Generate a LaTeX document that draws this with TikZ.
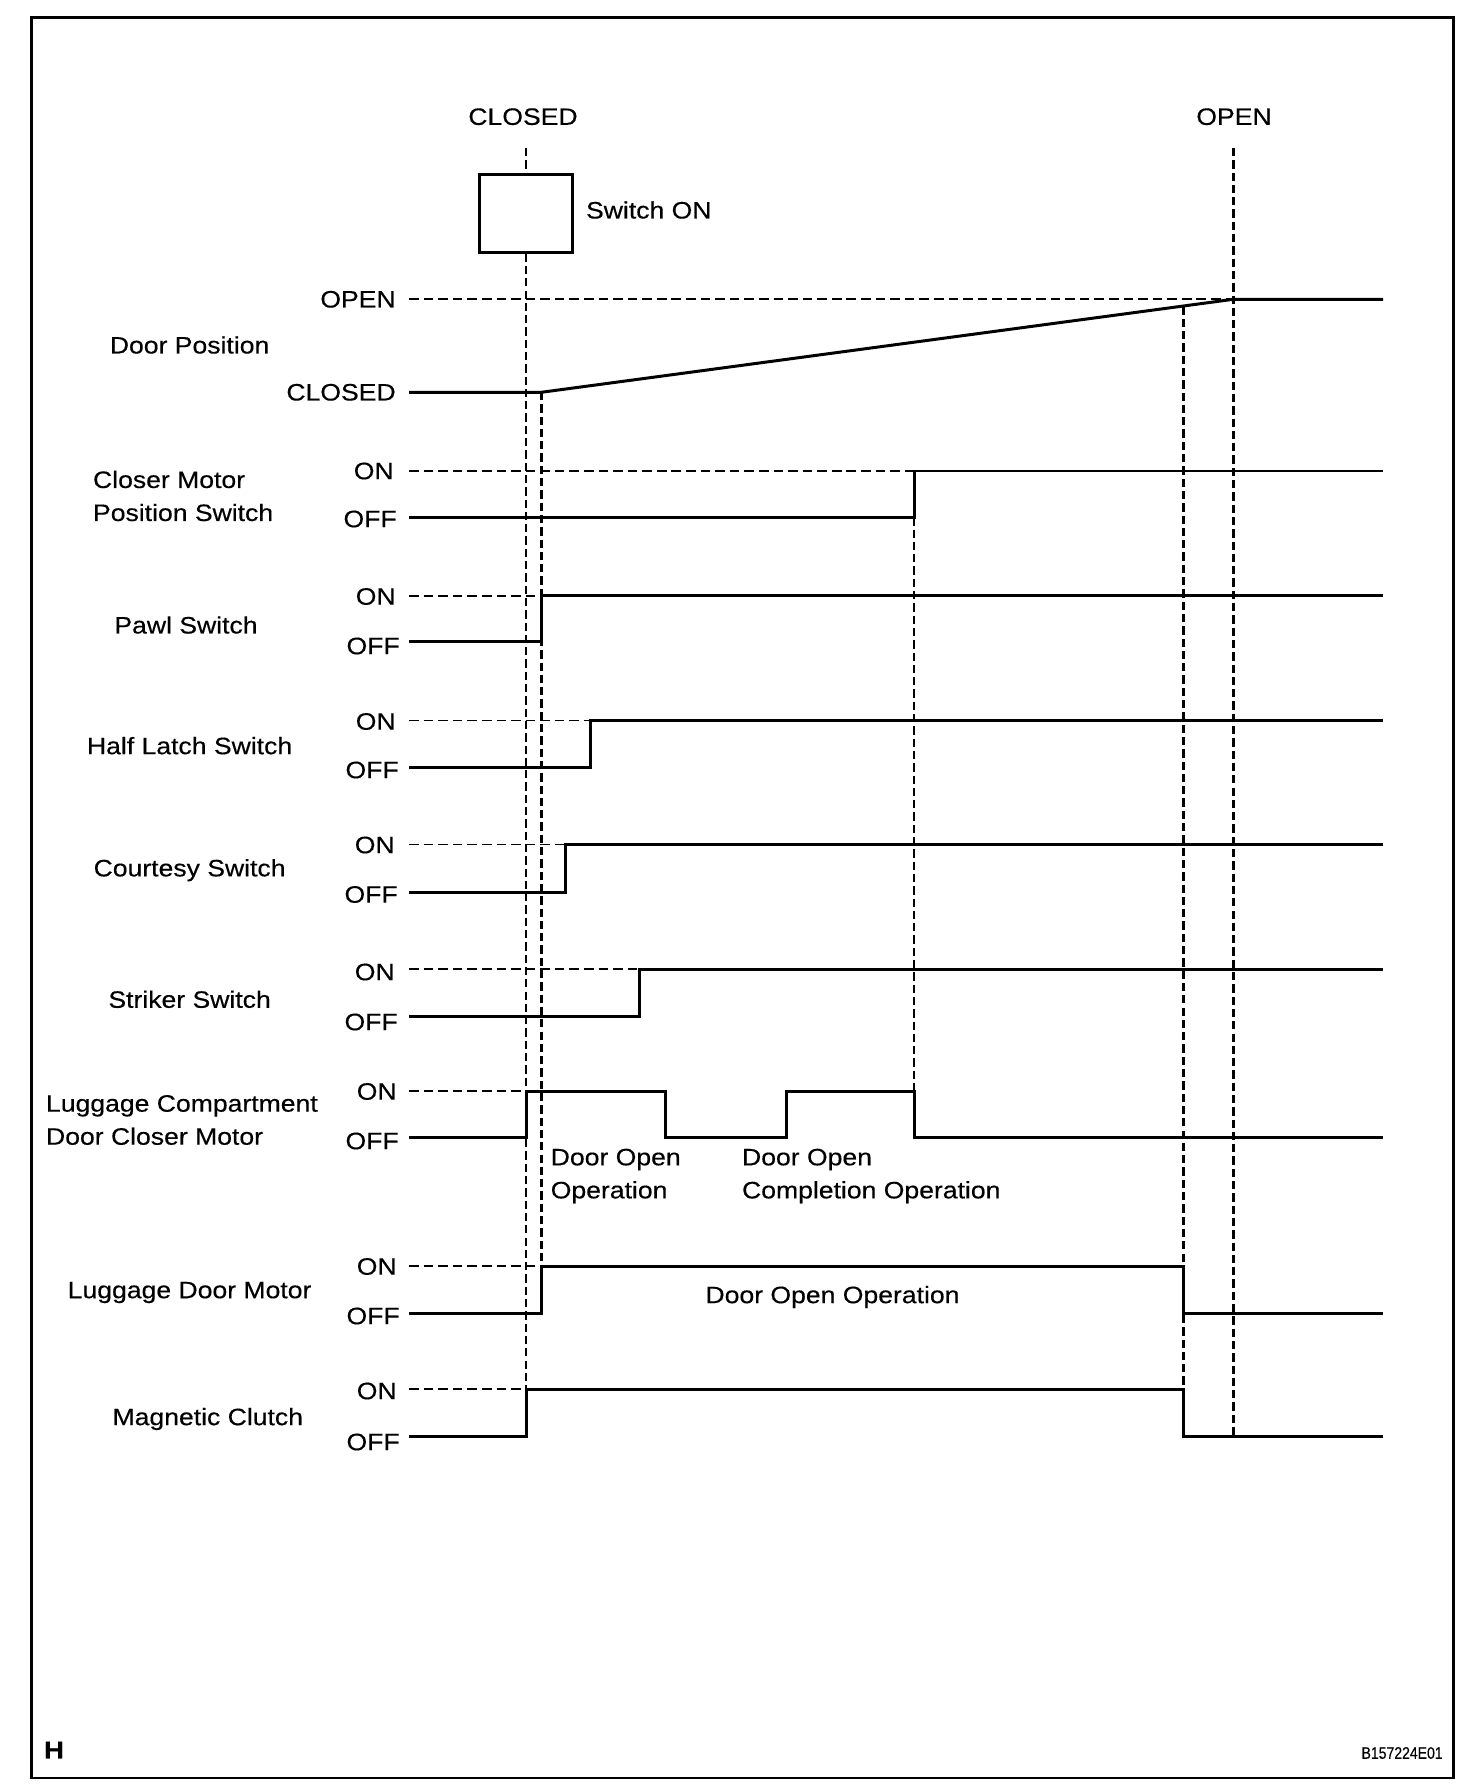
\documentclass[tikz,border=0pt]{standalone}
\usepackage{fontspec}
\setmainfont{Liberation Sans}[FakeStretch=1.12,FakeBold=0.35]
\newcommand\dfont{\fontsize{13.5pt}{18.8pt}\selectfont}
\begin{document}
\begin{tikzpicture}[x=0.02cm,y=-0.02cm,
  sig/.style={line width=1.7pt, line join=miter},
  vdash/.style={line width=1.5pt, dash pattern=on 4.7pt off 2.3pt},
  hdthick/.style={line width=1.2pt, dash pattern=on 5.5pt off 2.8pt},
  hdthin/.style={line width=0.7pt, dash pattern=on 5.5pt off 2.8pt},
  lbl/.style={inner sep=0pt, font=\dfont, align=center},
  lbll/.style={inner sep=0pt, font=\dfont, align=left, anchor=west},
  lvl/.style={inner sep=0pt, font=\dfont, anchor=east},
]
\def\xs{409}
\def\xA{526}
\def\xB{541.3}
\def\xC{1183.5}
\def\xD{1233.3}
\def\xe{1383}
\fill[white] (0,0) rectangle (1472,1790);
\useasboundingbox (0,0) rectangle (1472,1790);
% frame
\draw[line width=1.4pt] (31.7,17.3) rectangle (1453.5,1778);
% top labels
\node[lbl] (tclosed) at (523,116.7) {CLOSED};
\node[lbl] (topen) at (1234,116.7) {OPEN};
% switch box
\node[draw, line width=1.5pt, minimum width=1.868cm, minimum height=1.56cm, inner sep=0pt] (box) at (\xA,213.3) {};
\node[lbll] (swon) at (585.7,210) {Switch ON};
% vertical dashed lines
\coordinate (aTop) at (\xA,148);
\coordinate (aBot) at (\xA,1389.3);
\draw[vdash] (aTop) -- (box.north);
\draw[vdash] (box.south) -- (aBot);
\coordinate (bTop) at (\xB,392);
\coordinate (bBot) at (\xB,1313.3);
\draw[vdash] (bTop) -- (bBot);
\coordinate (mTop) at (914,517.3);
\coordinate (mBot) at (914,1091);
\draw[vdash] (mTop) -- (mBot);
\coordinate (cTop) at (\xC,306.5);
\coordinate (cBot) at (\xC,1436);
\draw[vdash] (cTop) -- (cBot);
\coordinate (dTop) at (\xD,148);
\coordinate (dBot) at (\xD,1436);
\draw[vdash] (dTop) -- (dBot);
% ---- Door Position
\node[lbl] (ldoor) at (189.6,345) {Door Position};
\node[lvl] (dopen) at (396,299.3) {OPEN};
\node[lvl] (dclosed) at (396,392.3) {CLOSED};
\draw[hdthick] (\xs,299.3) -- (\xD,299.3);
\draw[sig] (\xs,392.3) -- (\xB,392.3) -- (\xD,299.3) -- (\xe,299.3);
% ---- Closer Motor Position Switch
\node[lbll] (lcmps) at (92.7,496) {Closer Motor\\Position Switch};
\node[lvl] (on1) at (394,471) {ON};
\node[lvl] (off1) at (397,519) {OFF};
\draw[hdthick] (\xs,471) -- (914,471);
\draw[sig] (\xs,517.3) -- (914,517.3) -- (914,471) -- (\xe,471);
% ---- Pawl Switch
\node[lbl] (lpawl) at (186,625) {Pawl Switch};
\node[lvl] (on2) at (396,596.5) {ON};
\node[lvl] (off2) at (400,646) {OFF};
\draw[hdthick] (\xs,595.7) -- (\xB,595.7);
\draw[sig] (\xs,641.7) -- (\xB,641.7) -- (\xB,595.7) -- (\xe,595.7);
% ---- Half Latch Switch
\node[lbl] (lhalf) at (189.6,745.7) {Half Latch Switch};
\node[lvl] (on3) at (396,721.5) {ON};
\node[lvl] (off3) at (399,770) {OFF};
\draw[hdthin] (\xs,720.7) -- (590.7,720.7);
\draw[sig] (\xs,767.3) -- (590.7,767.3) -- (590.7,720.7) -- (\xe,720.7);
% ---- Courtesy Switch
\node[lbl] (lcourt) at (189.6,870.2) {Courtesy Switch};
\node[lvl] (on4) at (395,845) {ON};
\node[lvl] (off4) at (398,894.5) {OFF};
\draw[hdthin] (\xs,844.3) -- (565,844.3);
\draw[sig] (\xs,892.3) -- (565,892.3) -- (565,844.3) -- (\xe,844.3);
% ---- Striker Switch
\node[lbl] (lstrike) at (189.6,999.3) {Striker Switch};
\node[lvl] (on5) at (395,972) {ON};
\node[lvl] (off5) at (398,1022) {OFF};
\draw[hdthick] (\xs,969) -- (639.3,969);
\draw[sig] (\xs,1016.7) -- (639.3,1016.7) -- (639.3,969) -- (\xe,969);
% ---- Luggage Compartment Door Closer Motor
\node[lbll] (llcdcm) at (45.7,1120) {Luggage Compartment\\Door Closer Motor};
\node[lvl] (on6) at (397,1091.5) {ON};
\node[lvl] (off6) at (399,1141) {OFF};
\draw[hdthin] (\xs,1091) -- (\xA,1091);
\draw[sig] (\xs,1137.7) -- (\xA,1137.7) -- (\xA,1091) -- (665.7,1091) -- (665.7,1137.7)
  -- (786.7,1137.7) -- (786.7,1091) -- (914,1091) -- (914,1137.7) -- (\xe,1137.7);
\node[lbll] (op1) at (550.4,1176) {Door Open\\Operation};
\node[lbll] (op2) at (741.7,1176) {Door Open\\Completion Operation};
% ---- Luggage Door Motor
\node[lbl] (lldm) at (189.6,1292.5) {Luggage Door Motor};
\node[lvl] (on7) at (397,1266.5) {ON};
\node[lvl] (off7) at (400,1316) {OFF};
\draw[hdthin] (\xs,1266) -- (\xB,1266);
\draw[sig] (\xs,1313.3) -- (\xB,1313.3) -- (\xB,1266) -- (\xC,1266) -- (\xC,1313.3) -- (\xe,1313.3);
\node[lbl] (op3) at (832.5,1297) {Door Open Operation};
% ---- Magnetic Clutch
\node[lbl] (lmag) at (207.8,1419) {Magnetic Clutch};
\node[lvl] (on8) at (397,1391) {ON};
\node[lvl] (off8) at (400,1442) {OFF};
\draw[hdthick] (\xs,1389.3) -- (\xA,1389.3);
\draw[sig] (\xs,1436) -- (\xA,1436) -- (\xA,1389.3) -- (\xC,1389.3) -- (\xC,1436) -- (\xe,1436);
% ---- footer
\node[inner sep=0pt, font=\fontsize{14pt}{16pt}\selectfont\bfseries] (hh) at (54,1750) {H};
\node[inner sep=0pt, anchor=east, font=\fontsize{9.5pt}{11pt}\selectfont] (code) at (1443,1753) {\scalebox{0.75}[1]{B157224E01}};
\end{tikzpicture}
\end{document}
